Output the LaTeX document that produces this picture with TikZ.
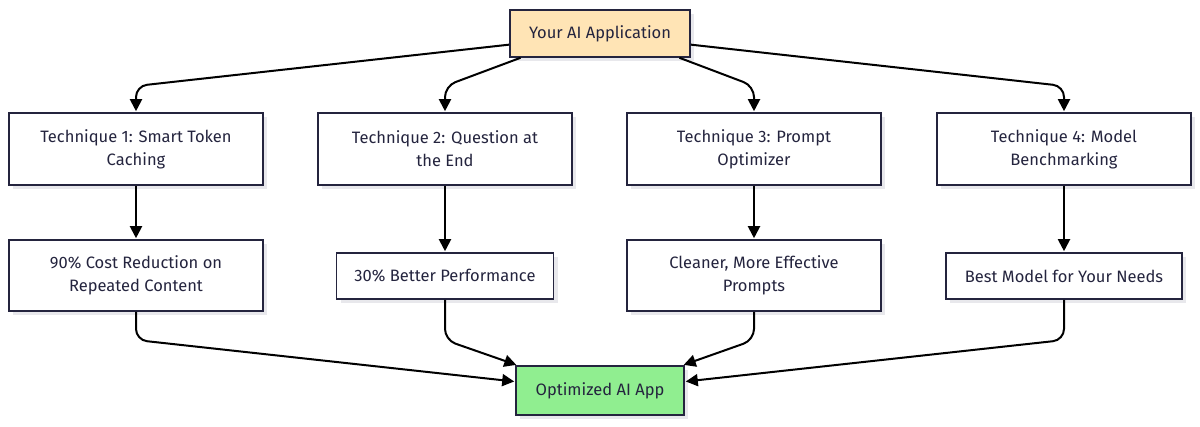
\documentclass[tikz,border=0pt]{standalone}
\usepackage{fontspec}
\setmainfont{Fira Sans}
\usetikzlibrary{arrows.meta,shadows,positioning}
\definecolor{ink}{HTML}{24243E}
\definecolor{topfill}{HTML}{FFE4B5}
\definecolor{botfill}{HTML}{90EE90}
\definecolor{shade}{HTML}{E8E8EC}
\tikzset{
  box/.style={draw=ink, line width=1.6pt, fill=white, text=ink, align=center,
    font=\fontsize{16.5}{23}\selectfont, inner sep=0pt,
    drop shadow={shadow xshift=4pt, shadow yshift=-4pt, fill=shade, opacity=1}},
  conn/.style={line width=2pt, black, rounded corners=11pt,
    -{Triangle[length=12pt,width=12pt]}, shorten >=1pt},
}
\begin{document}
\begin{tikzpicture}[x=1pt,y=-1pt]
\useasboundingbox (0,0) rectangle (1200,426);
\node[box, fill=topfill, minimum width=180pt, minimum height=47pt] (top) at (600,33.5) {Your AI Application};
\node[box, minimum width=254pt, minimum height=72pt] (t1) at (136,149) {Technique 1: Smart Token\\Caching};
\node[box, minimum width=254pt, minimum height=72pt] (t2) at (445,149) {Technique 2: Question at\\the End};
\node[box, minimum width=254pt, minimum height=72pt] (t3) at (754,149) {Technique 3: Prompt\\Optimizer};
\node[box, minimum width=254pt, minimum height=72pt] (t4) at (1064,149) {Technique 4: Model\\Benchmarking};
\node[box, minimum width=254pt, minimum height=71pt] (r1) at (136,275.5) {90\% Cost Reduction on\\Repeated Content};
\node[box, minimum width=217pt, minimum height=46pt] (r2) at (445,276) {30\% Better Performance};
\node[box, minimum width=254pt, minimum height=71pt] (r3) at (754,275.5) {Cleaner, More Effective\\Prompts};
\node[box, minimum width=236pt, minimum height=46pt] (r4) at (1064,276) {Best Model for Your Needs};
\node[box, fill=botfill, minimum width=168pt, minimum height=49pt] (bot) at (600,390.5) {Optimized AI App};
\coordinate (hirow) at (600,86);
\coordinate (lorow) at (600,340);
\draw[conn] (top.187) -- (t1.north |- hirow) -- (t1.north);
\draw[conn] (top.197) -- (t2.north |- hirow) -- (t2.north);
\draw[conn] (top.-17) -- (t3.north |- hirow) -- (t3.north);
\draw[conn] (top.-7) -- (t4.north |- hirow) -- (t4.north);
\draw[conn] (t1) -- (r1);
\draw[conn] (t2) -- (r2);
\draw[conn] (t3) -- (r3);
\draw[conn] (t4) -- (r4);
\draw[conn] (r1.south) -- (r1.south |- lorow) -- (bot.174);
\draw[conn] (r2.south) -- (r2.south |- lorow) -- (bot.163);
\draw[conn] (r3.south) -- (r3.south |- lorow) -- (bot.17);
\draw[conn] (r4.south) -- (r4.south |- lorow) -- (bot.6);
\end{tikzpicture}
\end{document}
